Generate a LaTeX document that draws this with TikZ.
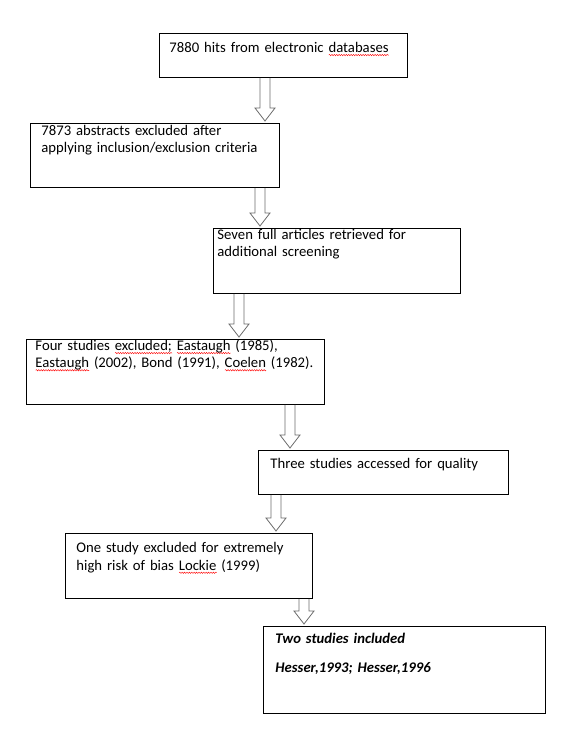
\documentclass[tikz,border=0pt]{standalone}
\usepackage{fontspec}
\setmainfont{Carlito}
\usetikzlibrary{calc, decorations.pathmorphing}

% red spell-check wave under a word
\newcommand{\spellwave}[1]{\leavevmode\setbox0\hbox{#1}\rlap{\tikz[baseline = 0pt]
  \draw [red, line width = 0.4pt, decorate, decoration = {snake, amplitude = 0.7pt, segment length = 2.4pt}]
  (0pt,-2.6pt) -- (\wd0,-2.6pt);}\box0\relax}

\tikzset{
  box/.style = {draw, line width = 0.9pt, anchor = north west, align = left,
    inner xsep = 11pt, inner ysep = 0pt,
    font = \fontsize{14.7}{17.2}\selectfont},
  hollow/.style = {draw = gray!85!black, line width = 0.8pt, to path = {
    let \p1 = (\tikztostart), \p2 = (\tikztotarget) in
    (\x1-5pt,\y1) -- (\x1-5pt,\y2+15pt) -- (\x1-10pt,\y2+15pt) -- (\x1,\y2+2pt)
    -- (\x1+10pt,\y2+15pt) -- (\x1+5pt,\y2+15pt) -- (\x1+5pt,\y1)}}
}

\begin{document}
\begin{tikzpicture}[x = 1pt, y = -1pt]
      \useasboundingbox (0,0) rectangle (587,753);
      % place nodes
      \node (hits) [box, inner xsep = 10pt, text width = 228pt, text height = 19pt, text depth = 25pt]
        at (159,33) {7880 hits from electronic \spellwave{databases}};
      \node (abstracts) [box, text width = 227pt, text height = 12pt, text depth = 52pt]
        at (30,123) {7873 abstracts excluded after\\ applying inclusion/exclusion criteria};
      \node (fulltext) [box, inner xsep = 4pt, text width = 239pt, text height = 11pt, text depth = 54pt]
        at (213,228) {Seven full articles retrieved for\\ additional screening};
      \node (excluded) [box, inner xsep = 9pt, text width = 280pt, text height = 11pt, text depth = 54pt]
        at (26,339) {Four studies \spellwave{excluded;} \spellwave{Eastaugh} (1985),\\
        \spellwave{Eastaugh} (2002), Bond (1991), \spellwave{Coelen} (1982).};
      \node (quality) [box, inner xsep = 12pt, text width = 226pt, text height = 18pt, text depth = 26pt]
        at (258,450) {Three studies accessed for quality};
      \node (biased) [box, text width = 225pt, text height = 19.5pt, text depth = 45.5pt]
        at (65,533) {One study excluded for extremely\\ high risk of bias \spellwave{Lockie} (1999)};
      \node (included) [box, inner xsep = 12pt, text width = 258pt, text height = 17pt, text depth = 70pt]
        at (263,626) {\bfseries\itshape Two studies included\\[11.8pt] Hesser,1993; Hesser,1996};
      % draw arrows
      \draw [hollow] (hits.south -| 265,0) to (abstracts.north -| 265,0);
      \draw [hollow] (abstracts.south -| 260,0) to (fulltext.north -| 260,0);
      \draw [hollow] (fulltext.south -| 239,0) to (excluded.north -| 239,0);
      \draw [hollow] (excluded.south -| 290,0) to (quality.north -| 290,0);
      \draw [hollow] (quality.south -| 276,0) to (biased.north -| 276,0);
      \draw [hollow] (biased.south -| 304,0) to (included.north -| 304,0);
\end{tikzpicture}
\end{document}
